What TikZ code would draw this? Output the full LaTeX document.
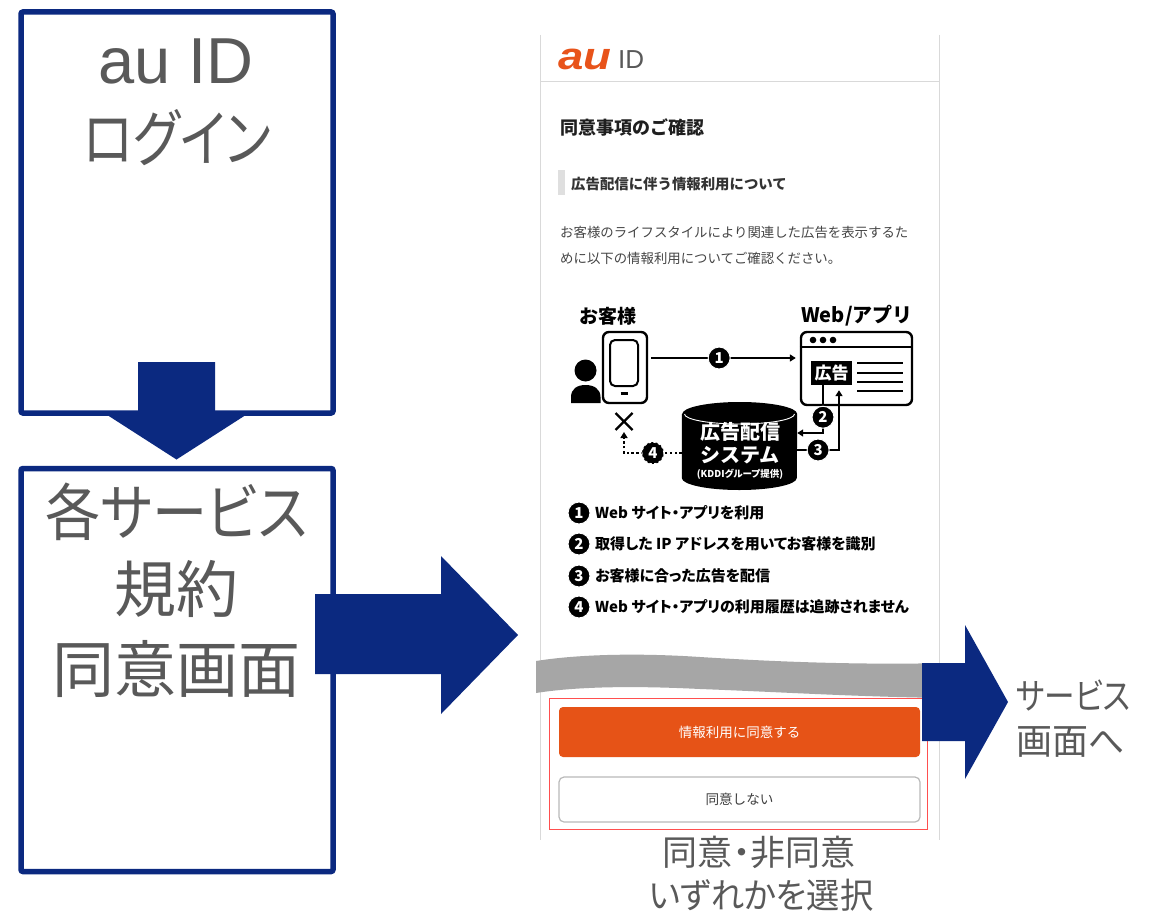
\documentclass[tikz,border=0pt]{standalone}
\usepackage{fontspec}
\usetikzlibrary{arrows.meta,calc}
\setmainfont{Noto Sans CJK JP}
\newfontfamily\jpfont{Noto Sans CJK JP}
\newfontfamily\jpprop{Noto Sans CJK JP}[CharacterWidth=AlternateProportional]
\newfontfamily\latinfont{Liberation Sans}
\newcommand\setfs[1]{\fontsize{#1}{#1}\selectfont}

\definecolor{navy}{HTML}{0B2980}
\definecolor{capgray}{HTML}{595959}
\definecolor{auorange}{HTML}{E8531A}
\definecolor{btnorange}{HTML}{E65317}
\definecolor{bandgray}{HTML}{A6A6A6}
\definecolor{edgegray}{HTML}{D9D9D9}
\definecolor{framered}{HTML}{FF4F4F}
\definecolor{bodytext}{HTML}{454545}

\begin{document}
\begin{tikzpicture}[x=1pt,y=-1pt,
  panel/.style={draw=navy,line width=5.5pt,rounded corners=2pt,fill=white,inner sep=0pt},
  caption/.style={text=capgray,inner sep=0pt,align=center},
  blockarrow/.style={fill=navy},
  ink/.style={line width=2.4pt,black},
  dotline/.style={line width=2.4pt,black,dash pattern=on 2.4pt off 2.4pt},
  numc/.style={circle,fill=black,draw=white,line width=1pt,inner sep=0pt,minimum size=22pt,
    text=white,font=\jpfont\bfseries\setfs{15pt}},
  tip/.style={-{Triangle[length=6pt,width=7pt]}},
  legend/.style={anchor=west,inner sep=0pt,font=\jpprop\bfseries\setfs{15pt}},
  pagetext/.style={anchor=west,inner sep=0pt},
]
\useasboundingbox (0,0) rectangle (1155,912);
\fill[white] (0,0) rectangle (1155,912);

% ---------- left flow: login and terms panels ----------
\node[panel,minimum width=312pt,minimum height=401pt] (login) at (177,212.5) {};
\node[panel,minimum width=312pt,minimum height=403pt] (terms) at (177,670) {};

\node[caption,font=\latinfont\setfs{65pt}] (loginA) at (176,61) {au ID};
\node[caption,font=\jpprop\setfs{62pt},xscale=0.83] (loginB) at (177,138) {ログイン};

\node[caption,font=\jpprop\setfs{62pt},xscale=0.89] (termsA) at (176.5,512) {各サービス};
\node[caption,font=\jpprop\setfs{62pt}] (termsB) at (176.5,589) {規約};
\node[caption,font=\jpprop\setfs{62pt}] (termsC) at (176.5,669) {同意画面};

% down arrow between the panels
\fill[blockarrow] (138,362) -- (215,362) -- (215,411) -- (252,411) -- (176.5,459.5)
  -- (101,411) -- (138,411) -- cycle;

% ---------- consent screen ----------
\draw[edgegray,line width=1pt] (540,35) -- (540,840);
\draw[edgegray,line width=1pt] (939,35) -- (939,840);
\draw[edgegray,line width=1pt] (540,82) -- (939,82);

\node[font=\latinfont\bfseries\itshape\setfs{38pt},text=auorange,inner sep=0pt,xscale=1.2] (aulogo) at (585,59.5) {au};
\node[pagetext,font=\latinfont\setfs{26pt},text=capgray] (idmark) at (618,60) {ID};

\node[pagetext,font=\jpfont\bfseries\setfs{18pt},text=black!88] (title) at (560,127) {同意事項のご確認};
\fill[gray!25] (558,170) rectangle (565,195);
\node[pagetext,font=\jpfont\bfseries\setfs{14.4pt},text=black!80] (subhead) at (571,184) {広告配信に伴う情報利用について};
\node[pagetext,font=\jpfont\setfs{13.4pt},text=bodytext] (paraA) at (560,232) {お客様のライフスタイルにより関連した広告を表示するた};
\node[pagetext,font=\jpfont\setfs{13.4pt},text=bodytext] (paraB) at (560,258) {めに以下の情報利用についてご確認ください。};

% illustration headings
\node[inner sep=0pt,font=\jpfont\bfseries\setfs{19pt}] (custlabel) at (608,316) {お客様};
\node[inner sep=0pt,font=\jpfont\bfseries\setfs{20pt}] (weblabel) at (857,316) {Web/アプリ};

% customer with phone
\node[draw,line width=2.4pt,rounded corners=6pt,minimum width=44pt,minimum height=71pt,inner sep=0pt] (phone) at (625,367.5) {};
\node[draw,line width=2pt,rounded corners=5pt,minimum width=28pt,minimum height=46pt,inner sep=0pt] (screen) at (624,363) {};
\draw[line width=2.6pt] (620.5,393.5) -- (627.5,393.5);
\fill (585.5,370.5) circle[radius=11pt];
\fill (571,403) -- (571,397) .. controls (571,389) and (577,385) .. (585.5,385)
  .. controls (594,385) and (600.5,389) .. (600.5,397) -- (600.5,403) -- cycle;
\coordinate (cross) at (624,421.5);
\draw[line width=2.2pt] (615.5,413) -- (632.5,430) (615.5,430) -- (632.5,413);

% web page / app window
\node[draw,line width=2.4pt,rounded corners=6pt,minimum width=111pt,minimum height=73pt,inner sep=0pt] (browser) at (856.5,368.5) {};
\coordinate (barline) at (0,347);
\draw[line width=2.4pt] (browser.west |- barline) -- (browser.east |- barline);
\fill (813,340) circle[radius=3.3pt] (823,340) circle[radius=3.3pt] (833,340) circle[radius=3.3pt];
\node[fill=black,text=white,font=\jpfont\bfseries\setfs{17pt},minimum width=41pt,minimum height=24pt,inner sep=0pt] (ad) at (831.5,373) {広告};
\draw[line width=2.4pt] (857,363) -- (903,363) (857,373) -- (903,373) (857,382) -- (903,382) (857,391) -- (903,391);

% ad delivery system (cylinder)
\node[minimum width=115pt,minimum height=88pt,inner sep=0pt] (db) at (739.5,446) {};
\fill (db.west |- 0,414) -- (db.west |- 0,478)
  arc[start angle=180,end angle=360,x radius=57.5pt,y radius=12pt]
  -- (db.east |- 0,414)
  arc[start angle=0,end angle=180,x radius=57.5pt,y radius=12pt] -- cycle;
\draw[white,line width=0.9pt] (684.5,414) arc[start angle=180,end angle=360,x radius=55pt,y radius=10pt];
\node[inner sep=0pt,text=white,font=\jpfont\bfseries\setfs{20pt}] (dbA) at (740,432) {広告配信};
\node[inner sep=0pt,text=white,font=\jpfont\bfseries\setfs{20pt}] (dbB) at (740,455) {システム};
\node[inner sep=0pt,text=white,font=\jpprop\bfseries\setfs{9.5pt}] (dbC) at (740,474) {(KDDIグループ提供)};

% flows 1-4
\coordinate (r1) at (722,358);
\draw[ink,tip] ([xshift=3pt]phone.east |- r1) -- node[numc,pos=0.47]{1} ([xshift=-4pt]browser.west |- r1);
\coordinate (b2) at (823,433);
\draw[ink,tip] (ad.south -| b2) -- node[numc,pos=0.67]{2} (b2) -- (db.east |- b2);
\coordinate (b3) at (839,450);
\draw[ink,tip] (db.east |- b3) -- node[numc,pos=0.5]{3} (b3) -- ([yshift=-5pt]b3 |- ad.south);
\coordinate (b4) at (624,453);
\draw[dotline,tip] (db.west |- b4) -- node[numc,pos=0.5]{4} (b4) -- ([yshift=-10.5pt]cross);

% legend
\node[numc] (k1) at (579,513) {1};
\node[numc] (k2) at (579,544) {2};
\node[numc] (k3) at (579,576) {3};
\node[numc] (k4) at (579,607) {4};
\node[legend] (l1) at (595,513) {Web サイト・アプリを利用};
\node[legend] (l2) at (595,544) {取得した IP アドレスを用いてお客様を識別};
\node[legend] (l3) at (595,576) {お客様に合った広告を配信};
\node[legend] (l4) at (595,607) {Web サイト・アプリの利用履歴は追跡されません};

% torn-page band
\fill[bandgray] (536,661) .. controls (580,654) and (640,653) .. (700,657)
  .. controls (780,662) and (860,665) .. (948,663) -- (948,698)
  .. controls (860,697) and (780,692) .. (700,689)
  .. controls (640,686) and (580,686) .. (536,693) -- cycle;

% buttons
\node[draw=framered,line width=1pt,minimum width=378pt,minimum height=131pt,inner sep=0pt] (choice) at (738,763.5) {};
\node[fill=btnorange,rounded corners=4pt,minimum width=361pt,minimum height=50pt,inner sep=0pt,
  text=white,font=\jpfont\setfs{13.5pt}] (agree) at (739.5,732) {情報利用に同意する};
\node[draw=gray!55,line width=1.2pt,rounded corners=5pt,fill=white,minimum width=361pt,minimum height=45pt,inner sep=0pt,
  text=black!75,font=\jpfont\setfs{13.6pt}] (decline) at (739.5,799.5) {同意しない};

% big arrow into the consent screen
\fill[blockarrow] (315,594) -- (441,594) -- (441,556) -- (518,635) -- (441,714) -- (441,674) -- (315,674) -- cycle;

% arrow out to the service
\fill[blockarrow] (922,663) -- (965,663) -- (965,625) -- (1008,702) -- (965,779) -- (965,741) -- (922,741) -- cycle;
\node[pagetext,text=capgray,font=\jpprop\setfs{36pt},xscale=0.85] (nextA) at (1016,695) {サービス};
\node[pagetext,text=capgray,font=\jpprop\setfs{36pt}] (nextB) at (1016,742) {画面へ};

% caption under the screen
\node[caption,font=\jpprop\setfs{35pt}] (pickA) at (759,852) {同意・非同意};
\node[caption,font=\jpprop\setfs{35pt},xscale=0.95] (pickB) at (761,895) {いずれかを選択};
\end{tikzpicture}
\end{document}
